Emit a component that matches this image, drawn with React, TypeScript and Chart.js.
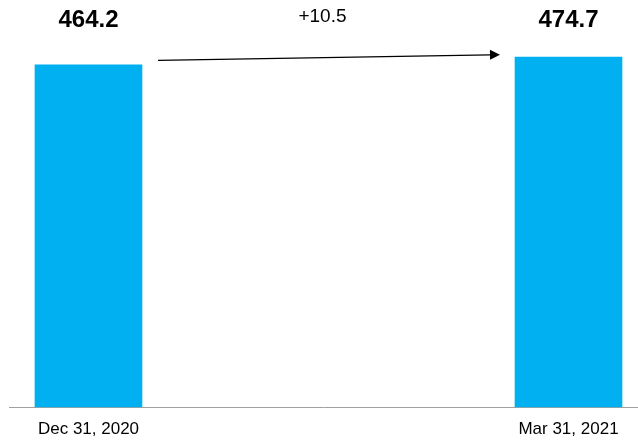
import React, { useEffect, useRef } from "react";
import { Chart, registerables } from "chart.js";

Chart.register(...registerables);

// Period-end balances
const periods = ["Dec 31, 2020", "Mar 31, 2021"];
const positions = [0, 1];
const balances = [464.2, 474.7];

const BAR_COLOR = "#00B0F0";
const FONT = "'Liberation Sans', Arial, sans-serif";

// Value labels above the bars, plus the change arrow between them
const bridgeLabels = {
  id: "bridgeLabels",
  afterDatasetsDraw(chart: any) {
    const { ctx, chartArea } = chart;
    const bars = chart.getDatasetMeta(0).data;
    if (bars.length < 2) return;
    ctx.save();
    ctx.fillStyle = "#000";
    ctx.textAlign = "center";
    ctx.textBaseline = "middle";

    ctx.font = `bold 24px ${FONT}`;
    bars.forEach((bar: any, i: number) => {
      ctx.fillText(balances[i].toFixed(1), bar.x, chartArea.top + 11.5);
    });

    const a = bars[0];
    const b = bars[bars.length - 1];
    const halfA = a.width / 2;
    const halfB = b.width / 2;
    const x0 = a.x + halfA + 16;
    const y0 = a.y - 4.5;
    const x1 = b.x - halfB - 15;
    const y1 = b.y - 2.5;
    const ang = Math.atan2(y1 - y0, x1 - x0);
    const headLen = 10;
    const headHalf = 5;

    ctx.strokeStyle = "#000";
    ctx.lineWidth = 1.3;
    ctx.beginPath();
    ctx.moveTo(x0, y0);
    ctx.lineTo(x1 - headLen * Math.cos(ang), y1 - headLen * Math.sin(ang));
    ctx.stroke();

    ctx.beginPath();
    ctx.moveTo(x1, y1);
    const bx = x1 - headLen * Math.cos(ang);
    const by = y1 - headLen * Math.sin(ang);
    ctx.lineTo(bx + headHalf * Math.sin(ang), by - headHalf * Math.cos(ang));
    ctx.lineTo(bx - headHalf * Math.sin(ang), by + headHalf * Math.cos(ang));
    ctx.closePath();
    ctx.fill();

    const delta = balances[balances.length - 1] - balances[0];
    ctx.font = `19px ${FONT}`;
    ctx.fillText(
      (delta >= 0 ? "+" : "") + delta.toFixed(1),
      (a.x + b.x) / 2 - 6,
      chartArea.top + 8
    );
    ctx.restore();
  },
};

export default function App() {
  const canvasRef = useRef<HTMLCanvasElement | null>(null);

  useEffect(() => {
    if (!canvasRef.current) return;
    const chart = new Chart(canvasRef.current, {
      type: "bar",
      data: {
        datasets: [
          {
            data: positions.map((x, i) => ({ x, y: balances[i] })),
            backgroundColor: BAR_COLOR,
            borderWidth: 0,
            barThickness: 107,
          },
        ],
      },
      options: {
        animation: false,
        responsive: true,
        maintainAspectRatio: false,
        layout: { padding: { top: 9, left: 9, right: 1, bottom: -10.7 } },
        plugins: {
          legend: { display: false },
          tooltip: { enabled: false },
        },
        scales: {
          x: {
            type: "linear",
            offset: false,
            min: -0.1656,
            max: 1.1427,
            grid: { display: false, drawTicks: false, offset: false },
            border: { display: true, color: "#a0a0a0", width: 1 },
            afterBuildTicks: (scale: any) => {
              scale.ticks = positions.map((v) => ({ value: v }));
            },
            ticks: {
              autoSkip: false,
              maxRotation: 0,
              padding: 12,
              color: "#000",
              font: { family: FONT, size: 17 },
              callback: (v: any) => periods[positions.indexOf(Number(v))] ?? "",
            },
          },
          y: {
            display: false,
            min: 0,
            max: 540,
          },
        },
      },
      plugins: [bridgeLabels],
    });
    return () => chart.destroy();
  }, []);

  return (
    <div style={{ position: "absolute", left: 0, top: 0, width: 638, height: 441 }}>
      <canvas ref={canvasRef} />
    </div>
  );
}
